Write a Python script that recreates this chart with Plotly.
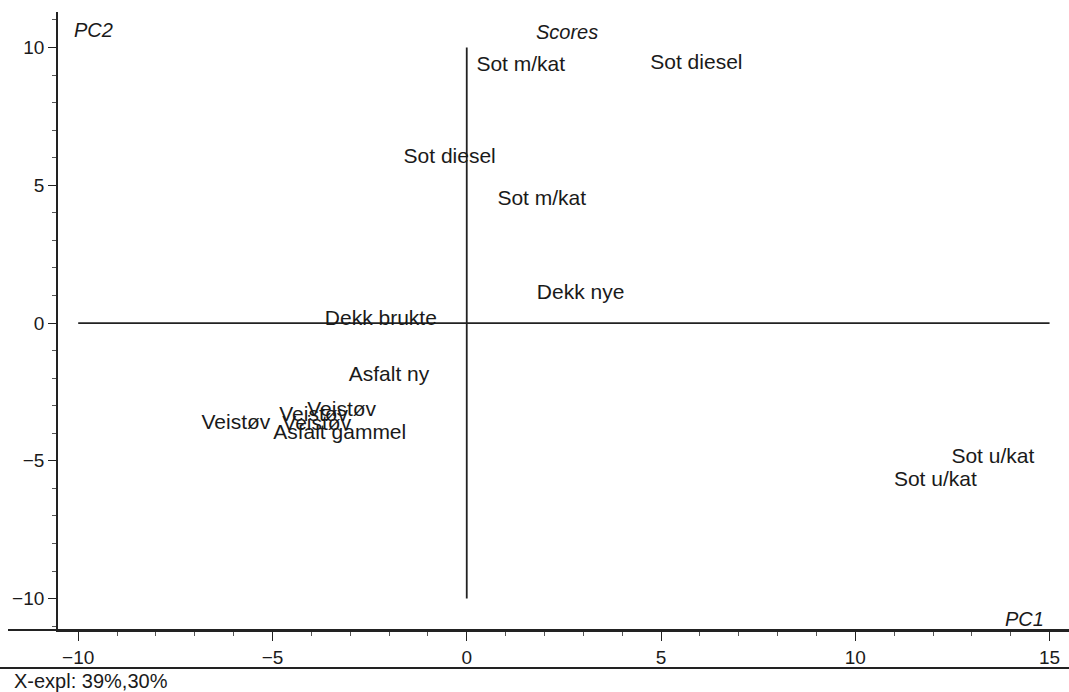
import plotly.graph_objects as go

# Data (PC1, PC2 scores)
labels = ["Sot m/kat", "Sot diesel", "Sot diesel", "Sot m/kat", "Dekk nye", "Dekk brukte",
          "Asfalt ny", "Veistøv", "Veistøv", "Veistøv", "Veistøv", "Asfalt gammel",
          "Sot u/kat", "Sot u/kat"]
pc1 = [1.39, 5.91, -0.44, 1.93, 2.93, -2.21, -2.0, -5.94, -3.22, -3.94, -3.86, -3.27, 13.54, 12.06]
pc2 = [9.34, 9.42, 5.99, 4.48, 1.07, 0.12, -1.91, -3.67, -3.18, -3.36, -3.70, -4.0, -4.9, -5.72]

x_ticks = [-10, -5, 0, 5, 10, 15]
y_ticks = [-10, -5, 0, 5, 10]

FONT = "Liberation Sans, Arial, Helvetica, sans-serif"
W, H = 1069, 692
L, R, T, B = 58, 0, 12, 62
pw, ph = W - L - R, H - T - B

def px_x(p):
    return (p - L) / pw

def px_y(p):
    return (H - B - p) / ph

fig = go.Figure()
fig.add_trace(go.Scatter(
    x=pc1, y=pc2, mode="text", text=labels, textposition="middle center",
    textfont=dict(family=FONT, size=21, color="#1a1a1a"), hoverinfo="skip",
    showlegend=False, cliponaxis=False))

# Origin cross lines
fig.add_shape(type="line", x0=-10, x1=15, y0=0, y1=0, xref="x", yref="y",
              line=dict(color="#222", width=1.8), layer="below")
fig.add_shape(type="line", x0=0, x1=0, y0=-10, y1=10, xref="x", yref="y",
              line=dict(color="#222", width=1.8), layer="below")

# frame lines
fig.add_shape(type="line", x0=px_x(8), x1=1, y0=0, y1=0, xref="paper", yref="paper",
              line=dict(color="#222", width=1.8))
fig.add_shape(type="line", x0=px_x(0), x1=1, y0=px_y(668), y1=px_y(668), xref="paper", yref="paper",
              line=dict(color="#222", width=1.8))

fig.update_layout(
    width=W, height=H,
    margin=dict(l=L, r=R, t=T, b=B),
    paper_bgcolor="white", plot_bgcolor="white",
    font=dict(family=FONT, size=19, color="#1a1a1a"),
    xaxis=dict(range=[-10.52, 15.50], tickvals=x_ticks, showgrid=False, zeroline=False,
               showline=True, linecolor="#222", linewidth=1.8, ticks="outside", ticklen=9,
               tickcolor="#222", tickwidth=1.3,
               minor=dict(ticks="outside", dtick=1, ticklen=4, tickcolor="#555", tickwidth=1),
               tickfont=dict(size=19)),
    yaxis=dict(range=[-11.14, 11.29], tickvals=y_ticks, showgrid=False, zeroline=False,
               showline=True, linecolor="#222", linewidth=1.8, ticks="outside", ticklen=8,
               tickcolor="#222", tickwidth=1.3,
               minor=dict(ticks="outside", dtick=1, ticklen=4, tickcolor="#555", tickwidth=1),
               tickfont=dict(size=19)),
    annotations=[
        dict(text="<i>PC2</i>", x=px_x(72), y=px_y(30), xref="paper", yref="paper",
             xanchor="left", yanchor="middle", showarrow=False, font=dict(size=20)),
        dict(text="<i>Scores</i>", x=px_x(567), y=px_y(32), xref="paper", yref="paper",
             xanchor="center", yanchor="middle", showarrow=False, font=dict(size=20)),
        dict(text="<i>PC1</i>", x=px_x(1046), y=px_y(619), xref="paper", yref="paper",
             xanchor="right", yanchor="middle", showarrow=False, font=dict(size=20)),
        dict(text="X-expl: 39%,30%", x=px_x(12), y=px_y(681), xref="paper", yref="paper",
             xanchor="left", yanchor="middle", showarrow=False, font=dict(size=20)),
    ],
)

fig.write_html("out.html")
